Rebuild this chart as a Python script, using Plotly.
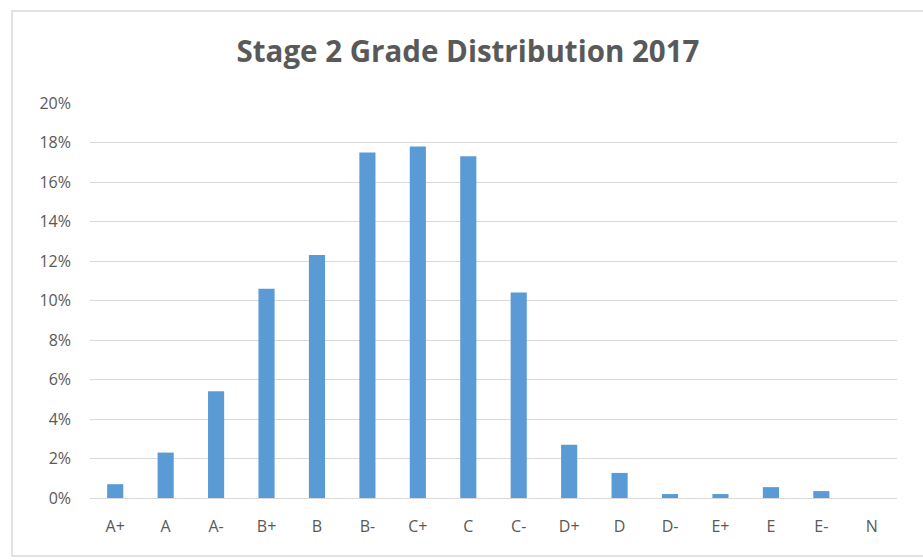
import plotly.graph_objects as go

grades = ["A+", "A", "A-", "B+", "B", "B-", "C+", "C", "C-", "D+", "D", "D-", "E+", "E", "E-", "N"]
percent = [0.7, 2.3, 5.4, 10.6, 12.3, 17.5, 17.8, 17.3, 10.4, 2.7, 1.27, 0.2, 0.2, 0.55, 0.35, 0.0]
y_ticks = [0, 2, 4, 6, 8, 10, 12, 14, 16, 18, 20]
y_labels = [f"{v}%" for v in y_ticks]

W, H = 923, 560
L, R, T, B = 90, 26, 103, 62
pw, ph = W - L - R, H - T - B

def px(x):
    return (x - L) / pw

def py(y):
    return (H - B - y) / ph

fig = go.Figure(go.Bar(x=grades, y=percent, marker_color="#5b9bd5", marker_line_width=0))

fig.update_layout(
    width=W, height=H,
    margin=dict(l=L, r=R, t=T, b=B),
    paper_bgcolor="white", plot_bgcolor="white",
    bargap=0.68,
    showlegend=False,
    title=dict(text="Stage 2 Grade Distribution 2017", x=468 / W, xanchor="center",
               y=1 - 52 / H, yanchor="middle", yref="container",
               font=dict(family="Open Sans", size=29.5, color="#595959", weight=700)),
    font=dict(family="Open Sans", size=16, color="#595959"),
)
fig.update_yaxes(range=[0, 20], tickmode="array", tickvals=y_ticks, ticktext=y_labels,
                 showgrid=True, gridcolor="#d9d9d9", gridwidth=1, zeroline=False,
                 showline=False, ticks="", ticklabelstandoff=18,
                 tickfont=dict(family="Open Sans", size=16, color="#595959"))
fig.update_xaxes(showline=True, linecolor="#d9d9d9", linewidth=1, ticks="",
                 ticklabelstandoff=14,
                 tickfont=dict(family="Open Sans", size=16, color="#595959"))

fig.add_shape(type="rect", xref="paper", yref="paper",
              x0=px(12), x1=px(930), y0=py(556), y1=py(11),
              line=dict(color="#d9d9d9", width=1.5), fillcolor="rgba(0,0,0,0)", layer="below")

fig.write_html("out.html", config={"displayModeBar": False},
               post_script="document.body.style.margin='0';document.body.style.overflow='hidden';")
